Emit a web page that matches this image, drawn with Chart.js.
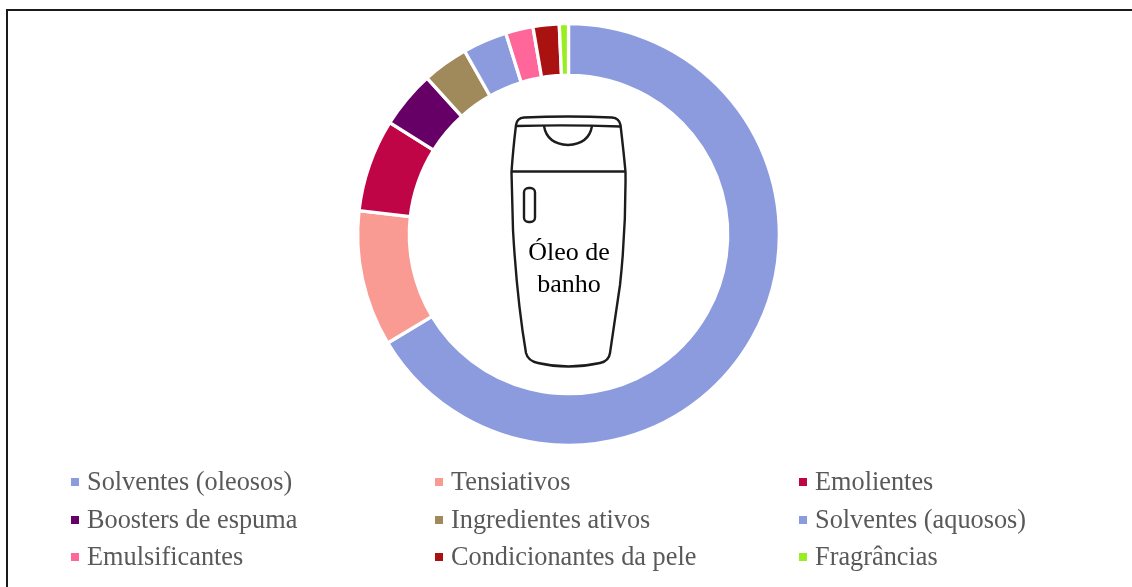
<!DOCTYPE html>
<html><head><meta charset="utf-8">
<style>
html,body{margin:0;padding:0;background:#fff;overflow:hidden}
#wrap{position:relative;width:1132px;height:587px}
#frame{position:absolute;left:6px;top:9px;width:1132px;height:600px;border:2px solid #1a1a1a;box-sizing:border-box}
canvas{position:absolute;left:0;top:0}
#bottle{position:absolute;left:0;top:0;pointer-events:none}
#center{position:absolute;left:469px;top:236px;width:200px;text-align:center;font:26px/32px "Liberation Serif",serif;color:#000}
</style></head><body>
<div id="wrap">
<canvas id="c" width="1132" height="587"></canvas>
<div id="frame"></div>
<svg id="bottle" width="1132" height="587" fill="none" stroke="#1c1c1c" stroke-width="2.4">
<path d="M516 125 Q517 118 524 117.500 Q568 115.500 612 117.500 Q619 118 620.500 125 Q624 155 625.500 172 Q626 230 620 285 L610 353 Q609 361 600 363 Q568 370 538 363 Q528 361 526 353 Q517 300 513 230 L511.500 172 Q513 150 516 125Z"/>
<path d="M516 126 Q568 124.500 620.500 126.500"/>
<path d="M511.500 171.500 L625.500 171.500"/>
<path d="M544 126 Q547 144 568 145 Q589 144 592 126"/>
<rect x="524" y="188" width="11" height="34" rx="4.500"/>
</svg>
<div id="center">Óleo de<br>banho</div>
</div>
<script src="https://cdn.jsdelivr.net/npm/chart.js@4"></script>
<script>
const categories=["Solventes (oleosos)","Tensiativos","Emolientes","Boosters de espuma","Ingredientes ativos","Solventes (aquosos)","Emulsificantes","Condicionantes da pele","Fragrâncias"];
const values=[66.4,10.4,7.1,4.4,3.5,3.4,2.1,2.0,0.7];
const colors=["#8B9BDE","#F99B93","#C00547","#660066","#A08A5C","#8B9BDE","#FF6699","#AA1111","#99EE22"];
const legendCols=[71,435,799], legendRows=[482,520,557];
const gridLegend={id:'gridLegend',afterDraw(chart){
  const ctx=chart.ctx;ctx.save();
  ctx.font='26.3px "Liberation Serif", serif';ctx.textBaseline='middle';
  chart.data.labels.forEach((t,i)=>{
    const x=legendCols[i%3],y=legendRows[Math.floor(i/3)];
    ctx.fillStyle=colors[i];ctx.fillRect(x,y-4,8,8);
    ctx.fillStyle='#595959';ctx.fillText(t,x+16,y+1);
  });
  ctx.restore();
}};
new Chart(document.getElementById('c'),{
  type:'doughnut',
  data:{labels:categories,datasets:[{data:values,backgroundColor:colors,borderColor:'#fff',borderWidth:3.3}]},
  options:{responsive:false,animation:false,cutout:'75.5%',
    layout:{padding:{left:356,right:351,top:22,bottom:140}},
    plugins:{legend:{display:false},tooltip:{enabled:false}}},
  plugins:[gridLegend]
});
</script></body></html>
